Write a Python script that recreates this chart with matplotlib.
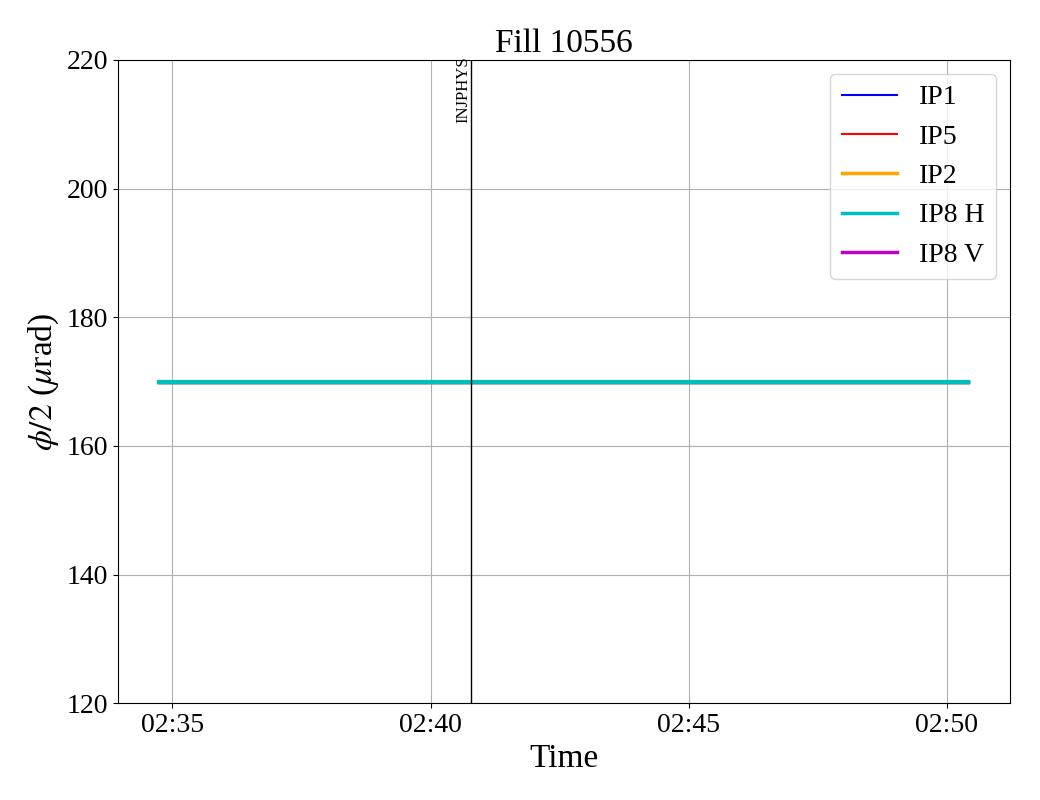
import matplotlib
matplotlib.use('Agg')
import matplotlib.pyplot as plt
import matplotlib.dates as mdates
import pandas as pd

plt.rcParams['font.family'] = ['Liberation Serif', 'DejaVu Serif']
plt.rcParams['mathtext.fontset'] = 'stix'

# data
t_start = pd.Timestamp('2024-05-01 02:34:44')
t_end = pd.Timestamp('2024-05-01 02:50:24')
t_end_thin = pd.Timestamp('2024-05-01 02:50:26')
times = [t_start, t_end]
times_thin = [t_start, t_end_thin]
ip1 = [170, 170]
ip5 = [170, 170]
ip2 = [170, 170]
ip8_h = [170, 170]
ip8_v = [170, 170]
mode_time = pd.Timestamp('2024-05-01 02:40:47')
mode_name = 'INJPHYS'

fig, ax = plt.subplots(figsize=(10.4, 8), dpi=100)
fig.subplots_adjust(left=0.1135, right=0.971, top=0.925, bottom=0.121)

ax.plot(times_thin, ip1, color='blue', lw=1.5, label='IP1', zorder=2)
ax.plot(times_thin, ip5, color='red', lw=1.5, label='IP5', zorder=2)
ax.plot(times, ip2, color='orange', lw=2.5, label='IP2', zorder=2)
ax.plot(times, ip8_h, color='c', lw=2.5, label='IP8 H', zorder=4)
ax.plot(times, ip8_v, color='m', lw=2.5, label='IP8 V', zorder=3)
# cyan line sits on top in the reference, draw it a touch heavier
ax.plot(times, ip8_h, color='c', lw=3, zorder=5)

ax.set_ylim(120, 220)
ax.axvline(mode_time, color='black', lw=1, zorder=6)
ax.text(mode_time, 220.6, mode_name, rotation=90, ha='right', va='top', fontsize=12)

ax.xaxis.set_major_formatter(mdates.DateFormatter('%H:%M'))
ax.xaxis.set_major_locator(mdates.MinuteLocator(byminute=range(0, 60, 5)))
ax.tick_params(labelsize=20)
ax.grid(True)
ax.set_xlabel('Time', fontsize=24)
ax.set_ylabel(r'$\phi/2$ ($\mu$rad)', fontsize=24)
ax.set_title('Fill 10556', fontsize=24)
ax.legend(loc='upper right', fontsize=20)

fig.savefig('out.png', dpi=100)
plt.close()
